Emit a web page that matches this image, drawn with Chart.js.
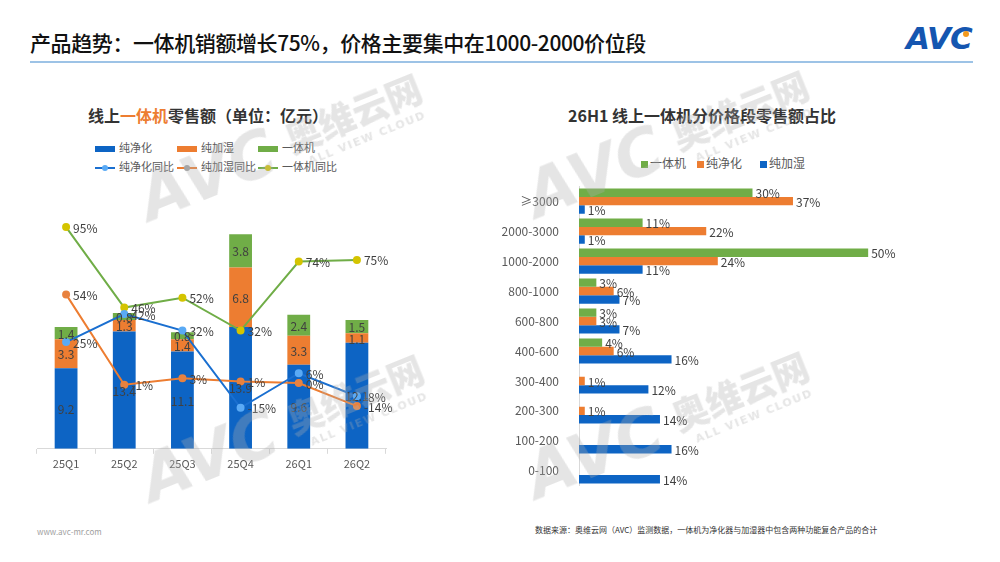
<!DOCTYPE html>
<html>
<head>
<meta charset="utf-8">
<script src="https://cdn.jsdelivr.net/npm/chart.js@4.4.1/dist/chart.umd.min.js"></script>
<style>
  body { margin: 0; background: #fff; font-family: "Noto Sans CJK SC", "Noto Sans", sans-serif; }
  #page { position: relative; width: 1000px; height: 562px; overflow: hidden; background: #fff; }
  .abs { position: absolute; white-space: nowrap; }
  #headTitle { left: 30px; top: 27px; font-size: 21px; font-weight: 500; color: #111; letter-spacing: -0.4px; }
  #headLine { left: 30px; top: 61px; width: 943px; height: 2px; background: #9dc3e6; }
  #logo { left: 906px; top: 20px; font-size: 31px; font-weight: 900; font-style: italic; color: #1556b0; font-family: "DejaVu Sans", sans-serif; letter-spacing: -1px; }
  #logoDot { left: 963px; top: 31px; width: 6px; height: 6px; border-radius: 50%; background: #f39a1e; }
  .chartTitle { font-size: 16px; font-weight: bold; color: #333; }
  .legend { font-size: 11px; color: #595959; }
  .rect { display: inline-block; width: 20px; height: 6px; vertical-align: middle; margin-right: 4px; }
  .sq { display: inline-block; width: 7px; height: 7px; vertical-align: middle; margin-right: 2px; }
  .lineMark { display: inline-block; position: relative; width: 20px; height: 8px; vertical-align: middle; margin-right: 4px; }
  .lineMark i { position: absolute; left: 0; top: 3px; width: 20px; height: 2px; }
  .lineMark b { position: absolute; left: 7px; top: 1px; width: 6px; height: 6px; border-radius: 50%; }
  .foot { font-size: 8px; }
  /* watermark: zero-size box rotated round the bottom-left of the "A" */
  .wm { position: absolute; width: 0; height: 0; transform: rotate(-22deg); transform-origin: 0 0; color: rgba(175,175,175,0.32); pointer-events: none; z-index: 5; }
  .wm span { position: absolute; white-space: nowrap; line-height: 1; }
  .wm .big { left: 0; bottom: -10px; font-family: "DejaVu Sans", sans-serif; font-size: 64px; font-weight: 900; font-style: italic; }
  .wm .cn { left: 157px; bottom: 8px; font-size: 36px; font-weight: 900; }
  .wm .en { left: 170px; top: -2px; font-family: "DejaVu Sans", sans-serif; font-size: 11px; font-weight: bold; letter-spacing: 1.5px; }
</style>
</head>
<body>
<div id="page">
  <div class="abs" id="headTitle">产品趋势：一体机销额增长75%，价格主要集中在1000-2000价位段</div>
  <div class="abs" id="headLine"></div>
  <div class="abs" id="logo">AVC</div>
  <div class="abs" id="logoDot"></div>

  <div class="abs chartTitle" style="left:88px; top:103px;">线上<span style="color:#ed7d31">一体机</span>零售额（单位：亿元）</div>
  <div class="abs legend" style="left:95px; top:139px;"><span class="rect" style="background:#0d64c4"></span>纯净化</div>
  <div class="abs legend" style="left:177px; top:139px;"><span class="rect" style="background:#ed7d31"></span>纯加湿</div>
  <div class="abs legend" style="left:258px; top:139px;"><span class="rect" style="background:#70ad47"></span>一体机</div>
  <div class="abs legend" style="left:95px; top:158px;"><span class="lineMark"><i style="background:#1a6fd0"></i><b style="background:#5aaaf5"></b></span>纯净化同比</div>
  <div class="abs legend" style="left:177px; top:158px;"><span class="lineMark"><i style="background:#ed7d31"></i><b style="background:#a0a0a0"></b></span>纯加湿同比</div>
  <div class="abs legend" style="left:258px; top:158px;"><span class="lineMark"><i style="background:#70ad47"></i><b style="background:#d4c400"></b></span>一体机同比</div>

  <div class="abs chartTitle" style="left:568px; top:103px;">26H1 线上一体机分价格段零售额占比</div>
  <div class="abs legend" style="left:641px; top:154px; font-size:12px;"><span class="sq" style="background:#70ad47"></span>一体机</div>
  <div class="abs legend" style="left:697px; top:154px; font-size:12px;"><span class="sq" style="background:#ed7d31"></span>纯净化</div>
  <div class="abs legend" style="left:760px; top:154px; font-size:12px;"><span class="sq" style="background:#0d64c4"></span>纯加湿</div>

  <div class="abs" style="left:30px; top:180px; width:380px; height:293px;"><canvas id="leftChart"></canvas></div>
  <div class="abs" style="left:490px; top:167px; width:450px; height:338px;"><canvas id="rightChart"></canvas></div>

  <div class="abs foot" style="left:37px; top:526px; color:#a0a0a0;">www.avc-mr.com</div>
  <div class="abs foot" style="left:535px; top:524px; color:#333;">数据来源：奥维云网（AVC）监测数据，一体机为净化器与加湿器中包含两种功能复合产品的合计</div>

  <div class="wm" style="left:150px; top:222px;"><span class="big">AVC</span><span class="cn">奥维云网</span><span class="en">ALL VIEW CLOUD</span></div>
  <div class="wm" style="left:152px; top:503px;"><span class="big">AVC</span><span class="cn">奥维云网</span><span class="en">ALL VIEW CLOUD</span></div>
  <div class="wm" style="left:537px; top:219px;"><span class="big">AVC</span><span class="cn">奥维云网</span><span class="en">ALL VIEW CLOUD</span></div>
  <div class="wm" style="left:537px; top:500px;"><span class="big">AVC</span><span class="cn">奥维云网</span><span class="en">ALL VIEW CLOUD</span></div>
</div>

<script>
// left chart: quarterly online sales (100M yuan) + yoy
const quarters = ['25Q1', '25Q2', '25Q3', '25Q4', '26Q1', '26Q2'];
const purifierSales = [9.2, 13.4, 11.1, 13.9, 9.6, 12.1];
const humidifierSales = [3.3, 1.3, 1.4, 6.8, 3.3, 1.1];
const comboSales = [1.4, 0.8, 0.8, 3.8, 2.4, 1.5];
const purifierYoY = [25, 42, 32, -15, 6, -8];
const humidifierYoY = [54, -1, 3, 1, 0, -14];
const comboYoY = [95, 46, 52, 32, 74, 75];

// right chart: 26H1 share by price band (%)
const priceBands = ['≥3000', '2000-3000', '1000-2000', '800-1000', '600-800', '400-600', '300-400', '200-300', '100-200', '0-100'];
const comboShare = [30, 11, 50, 3, 3, 4, null, null, null, null];
const purifierShare = [37, 22, 24, 6, 3, 6, 1, 1, null, null];
const humidifierShare = [1, 1, 11, 7, 7, 16, 12, 14, 16, 14];

const FONT = '"Noto Sans CJK SC", "Noto Sans", sans-serif';
const BLUE = '#0d64c4';
const ORANGE = '#ed7d31';
const GREEN = '#70ad47';

// draws the numbers next to bars / points
const valueLabels = {
    id: 'valueLabels',
    afterDatasetsDraw(chart) {
        const ctx = chart.ctx;
        const horizontal = chart.options.indexAxis === 'y';
        ctx.save();
        ctx.font = '12px ' + FONT;
        ctx.fillStyle = '#404040';
        ctx.textBaseline = 'middle';
        chart.data.datasets.forEach((ds, i) => {
            const meta = chart.getDatasetMeta(i);
            meta.data.forEach((el, j) => {
                const v = ds.data[j];
                if (v === null || v === undefined) return;
                if (horizontal) {
                    ctx.textAlign = 'left';
                    ctx.fillText(v + '%', el.x + 3, el.y + 1);
                } else if (ds.type === 'line') {
                    ctx.textAlign = 'left';
                    ctx.fillText(v + '%', el.x + 7, el.y + 1);
                } else {
                    ctx.textAlign = 'center';
                    ctx.fillText(v.toFixed(1), el.x, (el.y + el.base) / 2 + 1);
                }
            });
        });
        ctx.restore();
    }
};

Chart.defaults.font.family = FONT;
Chart.defaults.animation = false;

const lineSet = (label, data, color, pointColor) => ({
    type: 'line',
    label: label,
    data: data,
    yAxisID: 'y1',
    order: 0,
    borderColor: color,
    borderWidth: 2,
    pointRadius: 3,
    pointBackgroundColor: pointColor,
    pointBorderColor: pointColor,
    tension: 0
});

const barSet = (label, data, color) => ({
    type: 'bar',
    label: label,
    data: data,
    yAxisID: 'y',
    order: 1,
    backgroundColor: color,
    categoryPercentage: 0.8,
    barPercentage: 0.49
});

new Chart(document.getElementById('leftChart').getContext('2d'), {
    data: {
        labels: quarters,
        datasets: [
            lineSet('纯净化同比', purifierYoY, '#1a6fd0', '#5aaaf5'),
            lineSet('纯加湿同比', humidifierYoY, ORANGE, '#e8823f'),
            lineSet('一体机同比', comboYoY, GREEN, '#d4c400'),
            barSet('纯净化', purifierSales, BLUE),
            barSet('纯加湿', humidifierSales, ORANGE),
            barSet('一体机', comboSales, GREEN)
        ]
    },
    options: {
        responsive: true,
        maintainAspectRatio: false,
        layout: { padding: { left: 7, right: 24, top: 5, bottom: 0 } },
        plugins: { legend: { display: false }, tooltip: { enabled: false } },
        scales: {
            x: {
                stacked: true,
                grid: { drawOnChartArea: false, drawTicks: true, tickLength: 5, color: '#d9d9d9' },
                border: { color: '#d9d9d9' },
                ticks: { color: '#595959', font: { size: 11 }, padding: 3 }
            },
            y: { stacked: true, min: 0, max: 30, display: false },
            y1: { stacked: false, min: -40, max: 120, display: false }
        }
    },
    plugins: [valueLabels]
});

const hBarSet = (label, data, color) => ({
    label: label,
    data: data,
    backgroundColor: color,
    categoryPercentage: 0.84,
    barPercentage: 1.0
});

new Chart(document.getElementById('rightChart').getContext('2d'), {
    type: 'bar',
    data: {
        labels: priceBands,
        datasets: [
            hBarSet('一体机', comboShare, GREEN),
            hBarSet('纯净化', purifierShare, ORANGE),
            hBarSet('纯加湿', humidifierShare, BLUE)
        ]
    },
    options: {
        indexAxis: 'y',
        responsive: true,
        maintainAspectRatio: false,
        layout: { padding: { left: 0, right: 14, top: 0, bottom: 0 } },
        plugins: { legend: { display: false }, tooltip: { enabled: false } },
        scales: {
            x: { min: 0, max: 60, display: false },
            y: {
                grid: { display: false },
                border: { color: '#d9d9d9' },
                ticks: { color: '#595959', font: { size: 12 }, padding: 12 },
                afterFit: function (scale) { scale.width = 89; }
            }
        }
    },
    plugins: [valueLabels]
});
</script>
</body>
</html>
